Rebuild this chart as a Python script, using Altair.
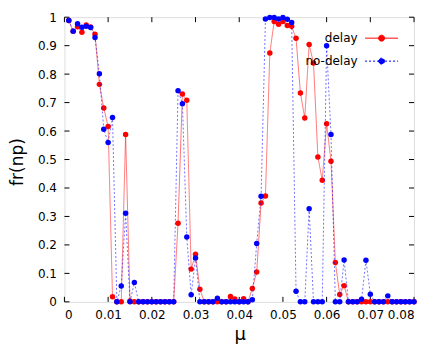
import altair as alt
import pandas as pd

# x grid (mu) : 0.001 .. 0.080
mu = [i / 1000 for i in range(1, 81)]

delay = [0.988, 0.951, 0.966, 0.947, 0.973, 0.966, 0.940, 0.764, 0.681, 0.616,
         0.018, 0.0, 0.0, 0.588, 0.003, 0.0, 0.0, 0.0, 0.0, 0.0,
         0.0, 0.0, 0.0, 0.0, 0.0, 0.276, 0.730, 0.708, 0.115, 0.167,
         0.044, 0.0, 0.0, 0.0, 0.0, 0.0, 0.0, 0.019, 0.010, 0.0,
         0.011, 0.0, 0.047, 0.105, 0.347, 0.372, 0.874, 0.985, 0.975, 0.985,
         0.971, 0.968, 0.926, 0.734, 0.646, 0.904, 0.839, 0.509, 0.427, 0.626,
         0.494, 0.138, 0.026, 0.057, 0.0, 0.0, 0.0, 0.0, 0.0, 0.0,
         0.0, 0.0, 0.0, 0.0, 0.0, 0.0, 0.0, 0.0, 0.0, 0.0]

nodelay = [0.988, 0.951, 0.977, 0.965, 0.968, 0.964, 0.929, 0.801, 0.606, 0.560,
           0.648, 0.0, 0.056, 0.311, 0.0, 0.068, 0.0, 0.0, 0.0, 0.0,
           0.0, 0.0, 0.0, 0.0, 0.0, 0.742, 0.696, 0.228, 0.025, 0.154,
           0.0, 0.0, 0.0, 0.0, 0.013, 0.0, 0.0, 0.0, 0.0, 0.0,
           0.0, 0.0, 0.007, 0.205, 0.371, 0.994, 0.999, 0.999, 0.994, 0.999,
           0.993, 0.981, 0.037, 0.0, 0.0, 0.327, 0.0, 0.0, 0.0, 0.900,
           0.588, 0.0, 0.0, 0.147, 0.0, 0.0, 0.0, 0.009, 0.146, 0.027,
           0.0, 0.0, 0.0, 0.021, 0.0, 0.0, 0.0, 0.0, 0.0, 0.0]

series_names = ["delay", "no-delay"]
series_colors = ["#ff0000", "#0000ff"]
x_ticks = [0, 0.01, 0.02, 0.03, 0.04, 0.05, 0.06, 0.07, 0.08]
y_ticks = [0, 0.1, 0.2, 0.3, 0.4, 0.5, 0.6, 0.7, 0.8, 0.9, 1.0]

W, H = 350, 285
FONT = "DejaVu Sans"

df = pd.DataFrame({
    "mu": mu + mu,
    "fr": delay + nodelay,
    "series": [series_names[0]] * len(mu) + [series_names[1]] * len(mu),
})

legend_path = "M-1,0L1,0M0.18,0A0.18,0.18,0,1,1,-0.18,0A0.18,0.18,0,1,1,0.18,0Z"
leg = alt.Legend(orient="none", legendX=300.5, legendY=4, title=None,
                 symbolType=legend_path, symbolSize=1089, symbolStrokeWidth=1,
                 symbolOpacity=1,
                 labelAlign="right", labelOffset={"expr": "-41"}, labelFontSize=12,
                 labelFont=FONT, labelColor="black", rowPadding={"expr": "-18"}, padding=0)

color = alt.Color("series:N", scale=alt.Scale(domain=series_names, range=series_colors), legend=leg)
dash = alt.StrokeDash("series:N", scale=alt.Scale(domain=series_names, range=[[1, 0], [2, 2]]), legend=leg)

x_scale = alt.Scale(domain=[0, 0.08], nice=False, zero=False)
y_scale = alt.Scale(domain=[0, 1], nice=False)
x_axis = alt.Axis(values=x_ticks, format=".2~f", ticks=False, grid=False, domain=False,
                  labelPadding=8, labelFontSize=12, labelFont=FONT, labelColor="black",
                  title="μ", titleFontSize=18, titleFont=FONT, titleFontWeight="normal",
                  titleColor="black", titleX=175.5, titleY=38, titleBaseline="alphabetic",
                  titleAlign="center")
y_axis = alt.Axis(values=y_ticks, format=".1~f", ticks=False, grid=False, domain=False,
                  labelPadding=8, labelFontSize=12, labelFont=FONT, labelColor="black",
                  title="fr(np)", titleFontSize=17, titleFont=FONT, titleFontWeight="normal",
                  titleColor="black", titleX=-41.5, titleY=144.5, titleAngle=270,
                  titleBaseline="alphabetic", titleAlign="center")

xenc = alt.X("mu:Q", scale=x_scale, axis=x_axis)
yenc = alt.Y("fr:Q", scale=y_scale, axis=y_axis)

layers = []
for name in series_names:
    sub = alt.Chart(df).transform_filter(alt.datum.series == name)
    layers.append(sub.mark_line(strokeWidth=1, opacity=0.55).encode(x=xenc, y=yenc, color=color, strokeDash=dash))
    layers.append(sub.mark_point(filled=True, size=30, opacity=1, shape="circle").encode(x=xenc, y=yenc, color=color))

ydf = pd.DataFrame({"v": y_ticks})
xdf = pd.DataFrame({"v": x_ticks})
ys = alt.Y("v:Q", scale=y_scale, axis=y_axis)
xs = alt.X("v:Q", scale=x_scale, axis=x_axis)
tick_color = "#000000"
ticks = [
    alt.Chart(ydf).mark_rule(color=tick_color, strokeWidth=1).encode(y=ys, x=alt.value(0), x2=alt.value(5)),
    alt.Chart(ydf).mark_rule(color=tick_color, strokeWidth=1).encode(y=ys, x=alt.value(W - 5), x2=alt.value(W)),
    alt.Chart(xdf).mark_rule(color=tick_color, strokeWidth=1).encode(x=xs, y=alt.value(H - 5), y2=alt.value(H)),
    alt.Chart(xdf).mark_rule(color=tick_color, strokeWidth=1).encode(x=xs, y=alt.value(0), y2=alt.value(5)),
]

chart = alt.layer(*ticks, *layers).properties(
    width=W, height=H,
    autosize=alt.AutoSizeParams(type="none"),
    padding={"left": 56.5, "top": 9, "right": 14, "bottom": 44},
).configure_view(stroke="black", strokeWidth=1).configure(background="white")

chart.save("out.html", embed_options={"renderer": "svg", "actions": False})
